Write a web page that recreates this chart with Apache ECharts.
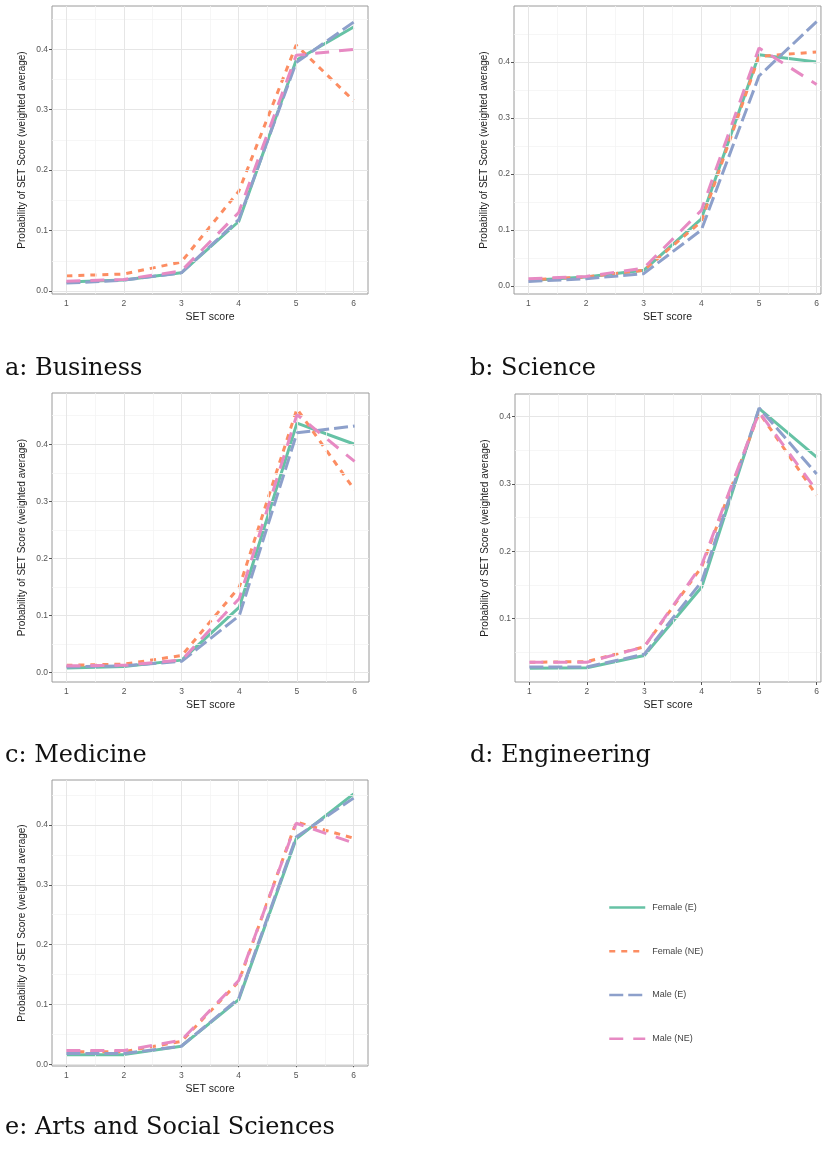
<!DOCTYPE html>
<html>
<head>
<meta charset="utf-8">
<script src="https://cdn.jsdelivr.net/npm/echarts@6/dist/echarts.min.js"></script>
<style>
html,body{margin:0;padding:0;background:#fff;}
#chart{width:822px;height:1154px;}
</style>
</head>
<body>
<div id="chart"></div>
<script>
// ---- data ----
const seriesNames = ['Female (E)', 'Female (NE)', 'Male (E)', 'Male (NE)'];
const xTicks = [1, 2, 3, 4, 5, 6];
const xMinor = [1.5, 2.5, 3.5, 4.5, 5.5];
const yTicksFull = [0.0, 0.1, 0.2, 0.3, 0.4];
const yTicksEng = [0.1, 0.2, 0.3, 0.4];
const yMinor = [0.05, 0.15, 0.25, 0.35, 0.45];

const businessFemaleE  = [0.015, 0.018, 0.030, 0.115, 0.382, 0.437];
const businessFemaleNE = [0.025, 0.028, 0.048, 0.165, 0.407, 0.315];
const businessMaleE    = [0.013, 0.018, 0.030, 0.118, 0.378, 0.445];
const businessMaleNE   = [0.016, 0.019, 0.033, 0.130, 0.390, 0.400];

const scienceFemaleE  = [0.010, 0.016, 0.028, 0.120, 0.413, 0.400];
const scienceFemaleNE = [0.011, 0.016, 0.028, 0.115, 0.410, 0.418];
const scienceMaleE    = [0.008, 0.013, 0.022, 0.100, 0.375, 0.472];
const scienceMaleNE   = [0.013, 0.017, 0.032, 0.135, 0.425, 0.360];

const medicineFemaleE  = [0.008, 0.011, 0.022, 0.115, 0.437, 0.400];
const medicineFemaleNE = [0.013, 0.015, 0.030, 0.150, 0.462, 0.320];
const medicineMaleE    = [0.010, 0.012, 0.020, 0.100, 0.420, 0.432];
const medicineMaleNE   = [0.012, 0.013, 0.022, 0.130, 0.452, 0.370];

const engineeringFemaleE  = [0.026, 0.027, 0.045, 0.147, 0.412, 0.340];
const engineeringFemaleNE = [0.035, 0.036, 0.058, 0.177, 0.406, 0.283];
const engineeringMaleE    = [0.028, 0.028, 0.047, 0.155, 0.413, 0.315];
const engineeringMaleNE   = [0.035, 0.035, 0.058, 0.180, 0.407, 0.290];

const artsFemaleE  = [0.016, 0.016, 0.030, 0.108, 0.377, 0.452];
const artsFemaleNE = [0.021, 0.021, 0.038, 0.138, 0.405, 0.378];
const artsMaleE    = [0.018, 0.018, 0.030, 0.110, 0.380, 0.445];
const artsMaleNE   = [0.023, 0.023, 0.040, 0.140, 0.403, 0.370];

// ---- layout & style ----
const colors = ['#66C2A5', '#FC8D62', '#8DA0CB', '#E78AC3'];
const dashes = ['solid', [6, 6], [14, 5], [14, 10]];
const sans = '"Liberation Sans", Arial, sans-serif';

const panels = [
  {caption: 'a: Business', cx: 5, cy: 371, grid: {left: 52, top: 6, width: 316, height: 288}, xMax: 6.25, yMin: -0.005, yMax: 0.4717, yTicks: yTicksFull,
   data: [businessFemaleE, businessFemaleNE, businessMaleE, businessMaleNE]},
  {caption: 'b: Science', cx: 470, cy: 371, grid: {left: 514, top: 6, width: 308, height: 288}, xMax: 6.075, yMin: -0.0143, yMax: 0.5, yTicks: yTicksFull,
   data: [scienceFemaleE, scienceFemaleNE, scienceMaleE, scienceMaleNE]},
  {caption: 'c: Medicine', cx: 5, cy: 758, grid: {left: 52, top: 393, width: 317, height: 289}, xMax: 6.25, yMin: -0.0163, yMax: 0.4898, yTicks: yTicksFull,
   data: [medicineFemaleE, medicineFemaleNE, medicineMaleE, medicineMaleNE]},
  {caption: 'd: Engineering', cx: 470, cy: 758, grid: {left: 515, top: 394, width: 307, height: 288}, xMax: 6.075, yMin: 0.0057, yMax: 0.4338, yTicks: yTicksEng,
   data: [engineeringFemaleE, engineeringFemaleNE, engineeringMaleE, engineeringMaleNE]},
  {caption: 'e: Arts and Social Sciences', cx: 5, cy: 1130, grid: {left: 52, top: 780, width: 316, height: 286}, xMax: 6.25, yMin: -0.003, yMax: 0.4753, yTicks: yTicksFull,
   data: [artsFemaleE, artsFemaleNE, artsMaleE, artsMaleNE]}
];

const grids = [], xAxes = [], yAxes = [], series = [], graphics = [];

panels.forEach((p, i) => {
  grids.push(Object.assign({show: true, borderColor: '#9a9a9a', borderWidth: 1, backgroundColor: '#fff', containLabel: false}, p.grid));
  xAxes.push({
    type: 'value', gridIndex: i, min: 0.75, max: p.xMax,
    name: 'SET score', nameLocation: 'middle', nameGap: 18,
    nameTextStyle: {fontFamily: sans, fontSize: 10.5, color: '#222'},
    axisLine: {show: false},
    axisTick: {show: true, length: 3, lineStyle: {color: '#555'}, customValues: xTicks},
    axisLabel: {show: true, margin: 5, fontFamily: sans, fontSize: 8.5, color: '#555', customValues: xTicks, formatter: v => String(v)},
    splitLine: {show: false}
  });
  yAxes.push({
    type: 'value', gridIndex: i, min: p.yMin, max: p.yMax,
    name: 'Probability of SET Score (weighted average)', nameLocation: 'middle', nameGap: 25,
    nameTextStyle: {fontFamily: sans, fontSize: 10, color: '#222'},
    axisLine: {show: false},
    axisTick: {show: true, length: 3, lineStyle: {color: '#555'}, customValues: p.yTicks},
    axisLabel: {show: true, margin: 4, fontFamily: sans, fontSize: 8.5, color: '#555', customValues: p.yTicks, formatter: v => v.toFixed(1)},
    splitLine: {show: false}
  });
  // grid lines via the axes' own scales
  const minorY = yMinor.filter(v => v > p.yMin && v < p.yMax);
  series.push({
    type: 'line', name: 'minorGrid' + i, xAxisIndex: i, yAxisIndex: i, data: [], z: 1, silent: true,
    markLine: {silent: true, animation: false, symbol: ['none', 'none'], label: {show: false},
      lineStyle: {color: '#F4F4F4', width: 0.8, type: 'solid'},
      data: xMinor.map(v => ({xAxis: v})).concat(minorY.map(v => ({yAxis: v})))}
  });
  series.push({
    type: 'line', name: 'majorGrid' + i, xAxisIndex: i, yAxisIndex: i, data: [], z: 1, silent: true,
    markLine: {silent: true, animation: false, symbol: ['none', 'none'], label: {show: false},
      lineStyle: {color: '#E6E6E6', width: 1, type: 'solid'},
      data: xTicks.map(v => ({xAxis: v})).concat(p.yTicks.map(v => ({yAxis: v})))}
  });
  p.data.forEach((vals, k) => {
    series.push({
      type: 'line', name: seriesNames[k], xAxisIndex: i, yAxisIndex: i,
      data: xTicks.map((x, j) => [x, vals[j]]),
      symbol: 'none', showSymbol: false, z: 3 + k, clip: true,
      lineStyle: {color: colors[k], width: 3, type: dashes[k], cap: 'butt'},
      itemStyle: {color: colors[k]},
      animation: false
    });
  });
  graphics.push({
    type: 'text', left: p.cx, top: p.cy - 14,
    style: {text: p.caption, fontFamily: '"DejaVu Serif", "Liberation Serif", serif', fontSize: 24, fill: '#111'}
  });
});

const chart = echarts.init(document.getElementById('chart'), null, {renderer: 'canvas'});
chart.setOption({
  backgroundColor: '#fff',
  animation: false,
  grid: grids,
  xAxis: xAxes,
  yAxis: yAxes,
  series: series,
  graphic: graphics,
  legend: {
    data: seriesNames, orient: 'vertical', left: 603, top: 897,
    itemWidth: 36, itemHeight: 14, itemGap: 32.5,
    itemStyle: {opacity: 0},
    lineStyle: {width: 2.5},
    textStyle: {fontFamily: sans, fontSize: 9, color: '#444', padding: [0, 0, 0, 2]},
    selectedMode: false
  }
});
</script>
</body>
</html>
